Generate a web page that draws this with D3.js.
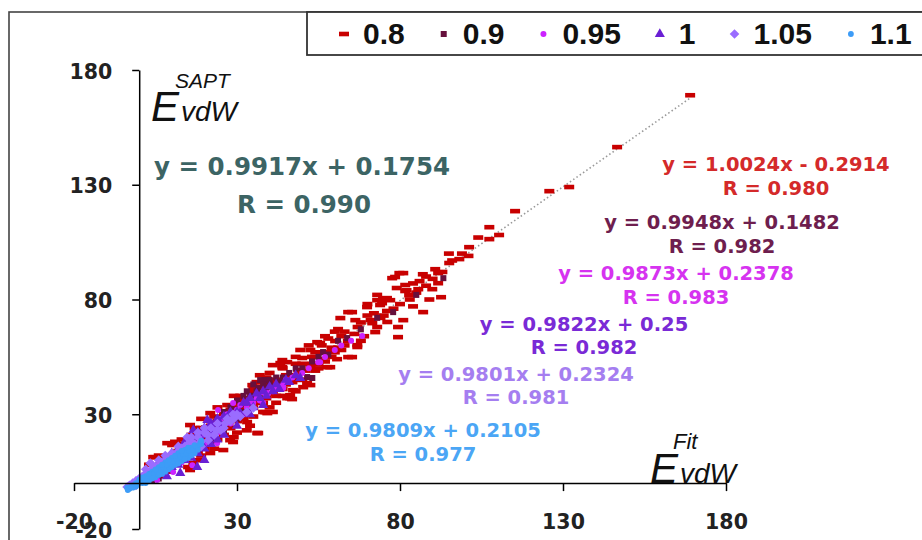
<!DOCTYPE html>
<html>
<head>
<meta charset="utf-8">
<script src="https://cdn.jsdelivr.net/npm/d3@7"></script>
<style>
  body { margin: 0; background: #fff; }
  svg { display: block; }
</style>
</head>
<body>
<svg id="chart"></svg>
<script>
// scaling factors (legend labels)
const seriesNames = ["0.8", "0.9", "0.95", "1", "1.05", "1.1"];

// E_vdW(Fit), E_vdW(SAPT) pairs
const s08 = [
  [169,169],[146.6,146.4],[125.8,127.2],[131.9,129],[115.3,118.5],[107.4,111.5],[110.4,108.1],[107.4,106.3],
  [101.2,102.8],[98.2,97.6],[95.1,95.9],[90.8,93.2],[91.7,91.5],[91.7,87.1],[89.9,84.5],[85.6,84.5],[92.6,81],
  [79.8,91.5],[77.6,89.3],[81.6,86.3],[81.6,83.7],[82.8,81.9],[74.8,80.2],[73,79.7],[77,79.7],[73.9,77.6],
  [76,80.6],[74.5,78.4],[87.1,74.5],[69.9,76.7],[65.3,74.5],[61.7,71.9],[66.3,71],[71.5,69.7],[76.1,70.2],
  [81,71],[72.4,65.8],[79.4,68],[79.4,63.6],[61,67.1],[66.9,60.1],[60.1,61.9],[55.5,61],[52.5,58],[65.3,54.9],
  [60.7,54],[50,54.5],[52.5,50.5],[58.6,50.5],[45.4,52.7],[43.9,50.5],[48.8,49.2],[52.5,42.7],[44.2,44.9],
  [41.1,41.8],[47.2,40.5],[34,39.7],[46.3,38.3],[50.3,41.8],[64.1,54.9],[46.3,37],[39.3,30.5],[36.2,21.8],
  [28.8,17.9],[25.8,14.4],[21.8,13.1],[16.6,8.7],[15.6,5.7],[8.6,17.4],[4.3,11.3],[15.6,25.3],[21.8,30.5],
  [31,34.9],[18.7,22.2],[43.3,52.3],[47.2,47],[46.9,36.6],[38.7,30.9],[33.1,26.6],[36.5,21.8],[27.9,18.7],
  [18.1,10],[15,7],[10.1,16.6],[4.9,11.3],[31.9,36.2],[34.7,42.7],[41,51.4],[43.9,53.6],[49.4,58],[54.6,61.4],
  [64.1,74.5],[78.5,89.8],[81,91.5],[51.5,43.6],[57.7,50.5],[66.9,59.3],[45.4,37],
  [56,60],[58,63],[54,57],[50,52],[48,52],[55,52],[57,57],[62,64],[63,66],[59,59],[53,55],[45,47],[42,45],
  [40,44],[38,42],[36,38],[35,40],[33,37],[30,33],[28,32],[26,30],[24,27],[22,25],[20,23],[18,20],[14,17],
  [12,14],[10,11],[7,8],[5,6],[3,4],[27,24],[30,27],[33,30],[38,35],[42,38],[44,41],[49,45],[54,49],[57,53],
  [60,57],[68,70],[70,73],[72,74],[67,68],[64,62],[69,64],[75,73],[78,76],[83,80],[84,87],[86,88],[88,90],
  [93,92],[96,97],[99,100],[24,19],[20,15],[12,9],[9,5],[6,3],[26,21],[30,22],[34,25],[40,33],[42,35],[48,40],
  [13,19],[17,24],[6,12],[11,18],[3,8],[24,33],[19,28],[29,38],[37,47],[40,48],[36,44],
  [85,83],[88,86],[90,89],[87,91],[82,84],[80,78],[76,75],[74,72],[71,71],[66,65],[63,60],[61,59],[59,55],
  [56,54],[53,52],[51,49],[49,48],[47,44],[45,43],[43,42],[41,39],[39,37],[37,35],[35,33],[33,33],[31,30],
  [29,28],[27,27],[25,25],[23,22],[21,20],[19,18],[17,16],[15,14],[13,12],[11,10],[9,9],[7,6],[32,28],[28,24],
  [22,18],[18,13],[35,29],[38,31],[44,38],[50,45],[55,50],[62,58],[68,62],[73,68],[84,77],[89,80],[60,66],
  [57,64],[52,60],[48,55],[44,50],[39,46],[35,42],[31,38],[27,34],[23,29],[19,24],[16,21],[70,78],[73,82],
  [79,85],[95,100],[101,99],[104,107],[29,20],[33,23],[23,15],[41,31],[19,12]
];
const s09 = [
  [93.3,89.3],[77.9,74.5],[63.8,63.2],[56.4,57.1],[53.1,45.8],[38.7,44.9],[36.5,41.4],[37.1,44.9],[42.3,41.8],
  [51.5,46.2],[40,43],[42,46],[35,43],[33,40],[34,38],[39,40],[30,36],[32,38],[28,33],[26,31],[24,28],[22,26],
  [20,24],[18,21],[16,18],[14,16],[12,14],[10,12],[8,10],[6,7],[4,5],[2,3],[30,28],[26,23],[22,19],[18,14],
  [14,10],[10,6],[6,2],[4,1],[48,50],[45,44],[58,56],[61,62],[68,67],[73,72],[85,82],[28,26],[32,31],
  [36,40],[38,43],[40,45],[41,42],[43,44],[35,38],[37,39],[39,42],[31,34],[29,32],[27,29],[25,27],[23,25],
  [21,22],[19,20],[17,19],[15,17],[44,46],[46,48],[50,50],[53,53],[55,55],[13,13],[11,11],[9,8],[7,5],[5,3],[3,2]
];
const s095 = [
  [68.4,64.1],[54.9,52.7],[55.5,52.7],[44.2,41.4],[42.3,41.8],[39.6,39.2],[44.2,43.1],[39.3,39.2],[47,46],
  [50,48],[36,37],[34,36],[31,34],[28.8,34.9],[24.2,31.8],[27,30],[25,28],[22,26],[20,24],[18,22],[16,19],
  [14,17],[12,15],[10,13],[8,10],[6,8],[4,6],[2,4],[0,2],[12,10],[16,13],[20,17],[23.9,17.4],[24,22],[28,26],
  [32,30],[16.3,7.8],[10.4,4.8],[5.5,1.3],[38,35],[60,58],[46,44],[38,39.6],
  [30,32],[26,29],[33,33],[35,35],[37,36],[41,40],[43,42],[45,45],[48,47],[52,50],[57,55],[62,60],[65,62],
  [22,24],[19,20],[17,17],[14,14],[11,12],[9,9],[7,6],[5,4],[3,2],[13,9],[9,6],[18,15],[22,20],[26,24]
];
const s1 = [
  [49.4,45.8],[48,47],[45,45],[42,43],[40,42],[38,40],[36,39],[34,37],[32,35],[31,30.5],[28,31],[26,29],
  [24,28],[22,26],[20.9,27.5],[20,24],[18,22],[16,20],[16.6,23.1],[14,18],[12,15],[10,13],[8,11],[6,9],[4,6],
  [2,4],[0,1],[10,7],[14,10],[18,13],[22,17],[22,20],[26,21],[30,25],[34,30],[38,34],[12.6,4.4],[8.5,3],
  [17.8,7],[20,10],[27.9,30.5],[33,35],[37,37],[41,40],
  [29,29],[27,27],[25,25],[23,23],[21,21],[19,19],[17,17],[15,15],[13,13],[11,11],[9,9],[7,7],[5,5],[3,3],
  [30,31],[35,33],[39,38],[43,41],[46,44],[24,19],[16,11],[12,8],[20,15],[6,4],[8,6]
];
const s105 = [
  [35,32.7],[26.4,26.1],[23.9,23.1],[21.2,18.7],[28.8,30],[31,29],[24,26],[22,24],[20,22],[18,20],[16,18],
  [14.7,20],[14,16],[12,14],[10,12],[8,10],[6,8],[3.4,8.7],[4,6],[2,4],[0,2],[-2,0],[-3.7,-1.7],[14,13],[17,15],
  [11,11],[9,8],[7,6],[5,4],[3,2],[1,1],[19,16],[25,23],[28,27],[15,17],[13,15],[-1,1],[1,3],[5,7],[9,11],
  [27,28],[29,28],[33,31],[30,30],[26,24],[23,21],[21,21],[19,18],[17,17],[15,15],[13,13],[11,10],[9,9],
  [7,7],[5,5],[3,3],[1,2],[-1,-1],[-3,-1],[10,13],[12,16],[8,12],[6,10],[4,8],[2,6],[16,20],[18,22],[20,24]
];
const s11 = [
  [-3.7,-2],[-3,-2.5],[-2,-1],[-1,-1.5],[0,0],[1,0],[1,1],[2,1.5],[3,2],[4,3],[5,3.5],[6,5],[7,5.5],[8,7],
  [9,7.5],[10,8.5],[11,9.5],[12,10],[13,11.5],[14,12],[15,13],[16,14],[17,15],[18,16],[18.7,17.4],[19,17],
  [2,3],[4,5],[6,7],[8,9],[10,11],[12,13],[14,14.5],[3,1],[5,2.5],[7,4],[9,6],[11,8],[13,9.5],[15,11],[0,1.5],
  [-1,0],[-2,-2],[16,15.5],[17,13],
  [-3.5,-3],[-2.5,-1.5],[-0.5,-0.5],[0.5,0.5],[1.5,0.8],[2.5,2],[3.5,2.5],[4.5,4],[5.5,4.5],[6.5,6],[7.5,6.5],
  [8.5,8],[9.5,9],[10.5,9.5],[11.5,10.5],[12.5,11.5],[13.5,12.5],[14.5,13],[15.5,14],[16.5,14.5],[17.5,16],
  [1,2.5],[3,4],[5,6],[7,8],[9,10],[11,12],[13,14],[15,15.5],[2,0],[4,2],[6,3.5],[8,5],[10,7],[12,8.5],
  [14,10.5],[16,12],[18,14.5],[19,18.5],[17,16.5]
];

const tickValues = [-20, 30, 80, 130, 180];

// overall linear fit (all series)
const overallSlope = 0.9917, overallIntercept = 0.1754, overallR = "0.990";
const fitRange = [-3.7, 169];

// per-series fit labels
const fitEquations = ["y = 1.0024x - 0.2914", "y = 0.9948x + 0.1482", "y = 0.9873x + 0.2378",
                      "y = 0.9822x + 0.25", "y = 0.9801x + 0.2324", "y = 0.9809x + 0.2105"];
const fitR = ["R = 0.980", "R = 0.982", "R = 0.983", "R = 0.982", "R = 0.981", "R = 0.977"];

const seriesData = [s08, s09, s095, s1, s105, s11];

// ---- styling ----
const colors = ["#c80000", "#66103c", "#cc22ff", "#6a1fd4", "#9a6cff", "#3d9cf7"];
const textColors = ["#d42a2a", "#6e1e4e", "#d633f0", "#7a2ad6", "#a57ef0", "#4ba6f5"];
const labelPos = [[776, 171, 195], [722, 229, 253], [676, 280, 304], [584, 331, 354], [516, 381, 404], [423, 437, 461]];

const width = 922, height = 540;
const svg = d3.select("#chart").attr("width", width).attr("height", height);
svg.append("rect").attr("width", width).attr("height", height).attr("fill", "#fff");

const x = d3.scaleLinear().domain([-20, 180]).range([74, 726]);
const y = d3.scaleLinear().domain([-20, 180]).range([529, 70]);

// outer frame
svg.append("rect").attr("x", 9).attr("y", 12).attr("width", 1000).attr("height", 600)
  .attr("fill", "none").attr("stroke", "#444").attr("stroke-width", 1.6);

// marker drawers
const markerFns = [
  (g, c) => g.append("rect").attr("x", -5).attr("y", -2.3).attr("width", 10).attr("height", 4.6).attr("fill", c),
  (g, c) => g.append("rect").attr("x", -3).attr("y", -3).attr("width", 6).attr("height", 6).attr("fill", c),
  (g, c) => g.append("circle").attr("r", 3).attr("fill", c),
  (g, c) => g.append("path").attr("d", d3.symbol(d3.symbolTriangle, 44)()).attr("fill", c),
  (g, c) => g.append("path").attr("d", "M0,-4.8L4.8,0L0,4.8L-4.8,0Z").attr("fill", c),
  (g, c) => g.append("circle").attr("r", 2.9).attr("fill", c)
];

// trend line
svg.append("line")
  .attr("x1", x(fitRange[0])).attr("y1", y(overallSlope * fitRange[0] + overallIntercept))
  .attr("x2", x(fitRange[1])).attr("y2", y(overallSlope * fitRange[1] + overallIntercept))
  .attr("stroke", "#999").attr("stroke-width", 1.6).attr("stroke-dasharray", "1.5,2.5");

// points
const pts = svg.append("g");
seriesData.forEach((data, i) => {
  pts.append("g").selectAll("g").data(data).join("g")
    .attr("transform", d => `translate(${x(d[0])},${y(d[1])})`)
    .each(function() { markerFns[i](d3.select(this), colors[i]); });
});

// axes
const xAxis = svg.append("g").attr("transform", `translate(0,${y(0)})`)
  .call(d3.axisBottom(x).tickValues(tickValues).tickFormat(d => String(d))
    .tickSize(8).tickSizeOuter(0).tickPadding(23));
const yAxis = svg.append("g").attr("transform", `translate(${x(0)},0)`)
  .call(d3.axisLeft(y).tickValues(tickValues).tickFormat(d => String(d))
    .tickSize(7).tickSizeOuter(0).tickPadding(20));
[xAxis, yAxis].forEach(a => {
  a.select(".domain").attr("stroke", "#000").attr("stroke-width", 1.5);
  a.selectAll(".tick line").attr("stroke", "#000").attr("stroke-width", 1.5);
  a.selectAll(".tick text").attr("fill", "#222").attr("font-family", "DejaVu Sans")
    .attr("font-weight", "bold").attr("font-size", 20.5);
});
yAxis.selectAll(".tick text").attr("dy", "0.4em");

// axis titles
const tfont = "Liberation Sans, Arial, sans-serif";
svg.append("text").attr("x", 151).attr("y", 121).attr("font-family", tfont).attr("font-style", "italic")
  .attr("font-size", 42).attr("fill", "#111").text("E");
svg.append("text").attr("x", 181).attr("y", 121).attr("font-family", tfont).attr("font-style", "italic")
  .attr("font-size", 28).attr("fill", "#111").text("vdW");
svg.append("text").attr("x", 175).attr("y", 88).attr("font-family", tfont).attr("font-style", "italic")
  .attr("font-size", 21).attr("fill", "#111").text("SAPT");
svg.append("text").attr("x", 650).attr("y", 483).attr("font-family", tfont).attr("font-style", "italic")
  .attr("font-size", 42).attr("fill", "#111").text("E");
svg.append("text").attr("x", 680).attr("y", 483).attr("font-family", tfont).attr("font-style", "italic")
  .attr("font-size", 28).attr("fill", "#111").text("vdW");
svg.append("text").attr("x", 673).attr("y", 449).attr("font-family", tfont).attr("font-style", "italic")
  .attr("font-size", 22).attr("fill", "#111").text("Fit");

// overall fit annotation
const afont = "DejaVu Sans, Verdana, sans-serif";
const fmt = d3.format(".4f");
svg.append("text").attr("x", 302).attr("y", 175).attr("text-anchor", "middle")
  .attr("font-family", afont).attr("font-weight", "bold").attr("font-size", 24.5).attr("fill", "#3c6464")
  .text(`y = ${overallSlope}x + ${fmt(overallIntercept)}`);
svg.append("text").attr("x", 304).attr("y", 213).attr("text-anchor", "middle")
  .attr("font-family", afont).attr("font-weight", "bold").attr("font-size", 24.5).attr("fill", "#3c6464")
  .text(`R = ${overallR}`);

// series fit annotations
fitEquations.forEach((eq, i) => {
  const [cx, b1, b2] = labelPos[i];
  svg.append("text").attr("x", cx).attr("y", b1).attr("text-anchor", "middle")
    .attr("font-family", afont).attr("font-weight", "bold").attr("font-size", 19.5).attr("fill", textColors[i])
    .text(eq);
  svg.append("text").attr("x", cx).attr("y", b2).attr("text-anchor", "middle")
    .attr("font-family", afont).attr("font-weight", "bold").attr("font-size", 19.5).attr("fill", textColors[i])
    .text(fitR[i]);
});

// legend
const legend = svg.append("g");
legend.append("rect").attr("x", 307).attr("y", 12).attr("width", 640).attr("height", 43)
  .attr("fill", "#fff").attr("stroke", "#333").attr("stroke-width", 1.8);
let lx = 344;
seriesNames.forEach((name, i) => {
  const m = legend.append("g").attr("transform", `translate(${lx},34)`);
  markerFns[i](m, colors[i]);
  const t = legend.append("text").attr("x", lx + 19).attr("y", 44)
    .attr("font-family", "Liberation Sans, Arial, sans-serif").attr("font-weight", "bold")
    .attr("font-size", 30).attr("fill", "#111").text(name);
  lx = lx + 19 + t.node().getComputedTextLength() + 39;
});
</script>
</body>
</html>
